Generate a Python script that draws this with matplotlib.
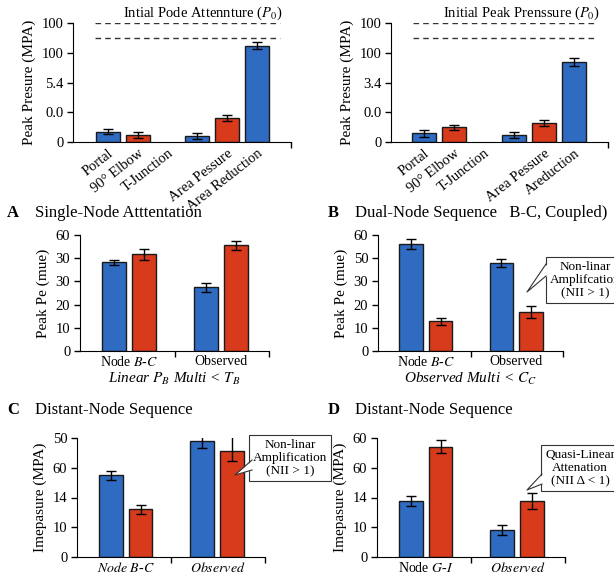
import numpy as np
import matplotlib.pyplot as plt
from matplotlib.patches import Polygon
from matplotlib.lines import Line2D

plt.rcParams['font.family'] = 'serif'
plt.rcParams['font.serif'] = ['Liberation Serif', 'DejaVu Serif']
plt.rcParams['mathtext.fontset'] = 'stix'

BLUE = '#2f6bc1'
RED = '#d83a1c'
W, H = 614, 575

# top panels: tick-index units on y, categorical x
top_labels_l = ['Portal', '90° Elbow', 'T-Junction', 'Area Pessure', 'Area Reduction']
top_labels_r = ['Portal', '90° Elbow', 'T-Junction', 'Area Pessure', 'Areduction']
top_label_pos = [0, 1, 2, 4, 5]
top_bar_pos = [0, 1, 3, 4, 5]
top_bar_col = [BLUE, RED, BLUE, RED, BLUE]
tl_vals = [0.35, 0.24, 0.21, 0.81, 3.23]
tl_err = [0.08, 0.10, 0.10, 0.11, 0.12]
tr_vals = [0.29, 0.50, 0.24, 0.65, 2.69]
tr_err = [0.11, 0.08, 0.10, 0.10, 0.12]
tl_yticks = ['0', '0.0', '5.4', '100', '100']
tr_yticks = ['0', '0.0', '3.4', '100', '100']
ref_lines = [4.0, 3.5]

# lower panels: [blue, red] for each group
groups_A = ['Node $B$-$C$', 'Observed']
A_blue, A_red = [38.2, 27.5], [41.6, 45.5]
A_blue_err, A_red_err = [1.2, 1.9], [2.2, 2.0]
A_yticks = ['0', '10', '20', '30', '30', '60']

B_blue, B_red = [46.1, 37.9], [12.8, 17.0]
B_blue_err, B_red_err = [2.0, 1.9], [1.6, 2.6]
B_yticks = ['0', '10', '20', '30', '50', '60']

groups_C = ['$Node\\ B$-$C$', '$Observed$']
C_blue, C_red = [27.4, 39.1], [16.0, 35.5]
C_blue_err = [1.5, 2.4]
C_red_err_lo, C_red_err_hi = [1.4, 3.1], [1.4, 8.4]
C_yticks = ['0', '10', '14', '60', '50']

groups_D = ['Node $G$-$I$', '$Observed$']
D_blue, D_red = [18.8, 9.2], [37.1, 18.8]
D_blue_err, D_red_err = [1.6, 1.7], [2.3, 2.8]
D_yticks = ['0', '10', '14', '60', '60']

fig = plt.figure(figsize=(W / 100, H / 100), dpi=100)


def add_ax(l, r, t, b):
    return fig.add_axes([l / W, 1 - b / H, (r - l) / W, (b - t) / H])


def style(ax):
    ax.spines['top'].set_visible(False)
    ax.spines['right'].set_visible(False)
    ax.tick_params(axis='y', labelsize=10.5, length=4, width=1, pad=3)
    ax.tick_params(axis='x', which='major', length=0, labelsize=10.5)
    ax.tick_params(axis='x', which='minor', length=4, width=1)


def top_panel(ax, vals, err, yticks, labels, xlim):
    ax.bar(top_bar_pos, vals, width=0.8, color=top_bar_col, edgecolor='#1a1a1a',
           linewidth=1, yerr=err, capsize=3.5, error_kw=dict(elinewidth=1, capthick=1))
    for y in ref_lines:
        ax.axhline(y, xmin=0.1, xmax=0.95, color='#333333', ls=(0, (4, 3)), lw=1)
    ax.set_ylim(0, 4)
    ax.set_xlim(*xlim)
    ax.set_yticks(range(5))
    ax.set_yticklabels(yticks)
    ax.set_xticks(top_label_pos)
    ax.set_xticklabels(labels, rotation=38, ha='right', rotation_mode='anchor')
    ax.set_xticks([xlim[1]], minor=True)
    ax.set_ylabel('Peak Presure (MPA)', fontsize=11)
    style(ax)


def group_panel(ax, blue, red, berr, rerr, yticks, labels, step, ylabel):
    x = np.arange(2)
    ek = dict(elinewidth=1, capthick=1)
    ax.bar(x - 0.163, blue, width=0.26, color=BLUE, edgecolor='#1a1a1a', lw=1,
           yerr=berr, capsize=3.5, error_kw=ek)
    ax.bar(x + 0.163, red, width=0.26, color=RED, edgecolor='#1a1a1a', lw=1,
           yerr=rerr, capsize=3.5, error_kw=ek)
    ax.set_xlim(-0.53, 1.52)
    ax.set_ylim(0, step * (len(yticks) - 1))
    ax.set_yticks([step * i for i in range(len(yticks))])
    ax.set_yticklabels(yticks)
    ax.set_xticks(x)
    ax.set_xticklabels(labels)
    ax.set_xticks([0.5, 1.52], minor=True)
    ax.set_ylabel(ylabel, fontsize=11)
    style(ax)
    ax.tick_params(axis='x', which='major', labelsize=10, pad=3)


def callout(text, center, box_left, p1, p2, tip):
    fy = lambda y: 1 - y / H
    fig.text(center[0] / W, fy(center[1]), text, ha='center', va='center',
             fontsize=9.5, linespacing=1.15, zorder=10,
             bbox=dict(boxstyle='square,pad=0.3', fc='white', ec='#333333', lw=0.8))
    xs = [box_left / W, tip[0] / W, box_left / W]
    ys = [fy(p1), fy(tip[1]), fy(p2)]
    fig.patches.append(Polygon(list(zip([x + 1.5 / W for x in xs[:1]] + xs[1:2] + [xs[2] + 1.5 / W], ys)),
                               closed=True, fc='white', ec='none',
                               transform=fig.transFigure, figure=fig, zorder=11))
    fig.lines.append(Line2D(xs, ys, color='#333333', lw=0.8,
                            transform=fig.transFigure, figure=fig, zorder=12))


ax1 = add_ax(73, 291, 23, 142)
top_panel(ax1, tl_vals, tl_err, tl_yticks, top_labels_l, (-1.17, 6.14))
fig.text(203 / W, 1 - 13 / H, 'Intial Pode Attennture ($P_0$)', ha='center',
         va='center', fontsize=10.5)

ax2 = add_ax(391, 608, 23, 142)
top_panel(ax2, tr_vals, tr_err, tr_yticks, top_labels_r, (-1.1, 6.13))
fig.text(522 / W, 1 - 13 / H, 'Initial Peak Prenssure ($P_0$)', ha='center',
         va='center', fontsize=10.5)

axA = add_ax(80, 269, 235, 351)
group_panel(axA, A_blue, A_red, A_blue_err, A_red_err, A_yticks, groups_A, 10,
            'Peak Pe (mue)')
axA.set_xlabel('Linear $P_B$ Multi < $T_B$', fontsize=11, style='italic', labelpad=1)

axB = add_ax(378, 563, 235, 351)
group_panel(axB, B_blue, B_red, B_blue_err, B_red_err, B_yticks, groups_A, 10,
            'Peak Pe (mue)')
axB.set_xlabel('Observed Multi < $C_C$', fontsize=11, style='italic', labelpad=1)

axC = add_ax(77, 265, 438, 557)
group_panel(axC, C_blue, C_red, C_blue_err, [C_red_err_lo, C_red_err_hi], C_yticks,
            groups_C, 10, 'Imepasure (MPA)')

axD = add_ax(377, 565, 438, 557)
group_panel(axD, D_blue, D_red, D_blue_err, D_red_err, D_yticks, groups_D, 10,
            'Imepasure (MPA)')

for letter, title, lx, tx, y in [('A', 'Single-Node Atttentation', 7, 35, 213),
                                 ('B', 'Dual-Node Sequence   B-C, Coupled)', 328, 355, 213),
                                 ('C', 'Distant-Node Sequence', 7, 35, 410),
                                 ('D', 'Distant-Node Sequence', 328, 355, 410)]:
    fig.text(lx / W, 1 - y / H, letter, fontsize=12, fontweight='bold', va='center')
    fig.text(tx / W, 1 - y / H, title, fontsize=12, va='center')

callout('Non-linar\nAmplifcation\n(NII > 1)', (585, 280), 546, 264, 276, (527, 292))
callout('Non-linar\nAmplification\n(NII > 1)', (290, 458), 252, 460, 470, (235, 475))
callout('Quasi-Linear\nAttenation\n(NII Δ < 1)', (580, 468), 542, 474, 484, (527, 490))

fig.savefig('out.png', dpi=100)
